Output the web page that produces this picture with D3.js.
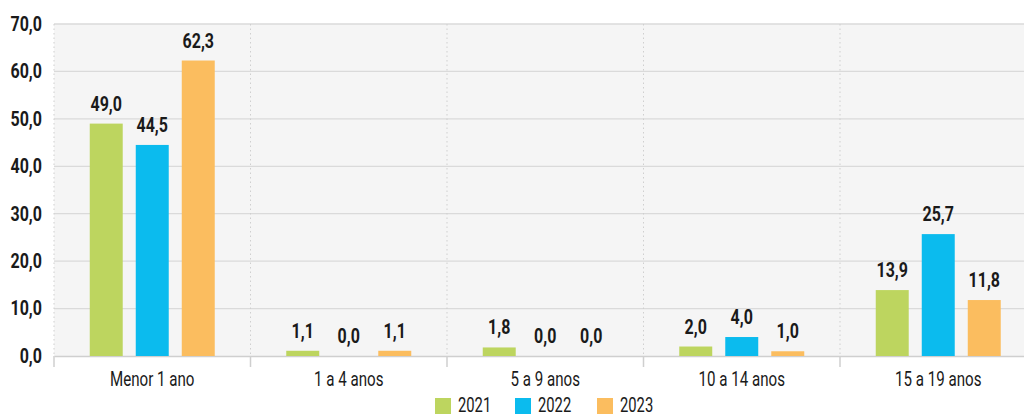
<!DOCTYPE html>
<html>
<head>
<meta charset="utf-8">
<script src="https://cdn.jsdelivr.net/npm/d3@7"></script>
<style>
  html, body { margin: 0; padding: 0; background: #fff; }
  svg { display: block; }
  text { font-family: Roboto, "DejaVu Sans", sans-serif; fill: #1a1a1a; }
</style>
</head>
<body>
<svg id="chart" width="1024" height="416"></svg>
<script>
const categories = ["Menor 1 ano", "1 a 4 anos", "5 a 9 anos", "10 a 14 anos", "15 a 19 anos"];
const seriesNames = ["2021", "2022", "2023"];
const values2021 = [49.0, 1.1, 1.8, 2.0, 13.9];
const values2022 = [44.5, 0.0, 0.0, 4.0, 25.7];
const values2023 = [62.3, 1.1, 0.0, 1.0, 11.8];
const colors = ["#bdd55f", "#0bbbee", "#fbbd5f"];
const yTicks = [0, 10, 20, 30, 40, 50, 60, 70];

const series = [values2021, values2022, values2023];
const fmt = v => d3.format(".1f")(v).replace(".", ",");

const svg = d3.select("#chart");
const m = { left: 54, top: 24 };
const plotRight = 54 + 196.5 * 5;

const x = d3.scaleBand().domain(categories).range([m.left, plotRight]);
const xs = d3.scaleBand().domain(seriesNames).range([0, x.bandwidth()]).paddingInner(0.283).paddingOuter(0.777);
const y = d3.scaleLinear().domain([0, 70]).range([356, m.top]);

// squeeze a text node horizontally around its anchor point (condensed look)
function condense(sel, k) {
  sel.each(function () {
    const t = d3.select(this);
    const tx = +t.attr("x") || 0;
    t.attr("x", 0).attr("transform", `translate(${tx},0) scale(${k},1)`);
  });
}

// plot background
svg.append("rect")
  .attr("x", m.left).attr("y", y(70))
  .attr("width", plotRight - m.left).attr("height", y(0) - y(70))
  .attr("fill", "#f5f5f5");

// horizontal gridlines
svg.append("g").selectAll("line").data(yTicks.filter(t => t > 0)).join("line")
  .attr("x1", m.left).attr("x2", plotRight)
  .attr("y1", d => y(d)).attr("y2", d => y(d))
  .attr("stroke", "#dadada").attr("stroke-width", 1.3);

// dotted category separators
const seps = categories.map(c => x(c));
svg.append("g").selectAll("line").data(seps).join("line")
  .attr("x1", d => d).attr("x2", d => d)
  .attr("y1", y(70)).attr("y2", y(0))
  .attr("stroke", "#cfcfcf").attr("stroke-dasharray", "1.5,3");

// y axis labels
const yAxis = d3.axisLeft(y).tickValues(yTicks).tickFormat(fmt).tickSize(0).tickPadding(12);
const gy = svg.append("g").attr("transform", `translate(${m.left},0)`).call(yAxis)
  .attr("font-family", null).attr("font-size", null);
gy.select(".domain").remove();
gy.selectAll("text").style("font-size", "20px").style("font-weight", "bold").attr("fill", "#1a1a1a")
  .call(condense, 0.8);

// x axis
const xAxis = d3.axisBottom(x).tickSize(0).tickPadding(15);
const gx = svg.append("g").attr("transform", `translate(0,${y(0)})`).call(xAxis)
  .attr("font-family", null).attr("font-size", null);
gx.select(".domain").attr("stroke", "#cfcfcf").attr("stroke-width", 1.5);
gx.selectAll("text").style("font-size", "21px").attr("fill", "#1a1a1a").call(condense, 0.72);
svg.append("g").selectAll("line").data(seps).join("line")
  .attr("x1", d => d).attr("x2", d => d)
  .attr("y1", y(0)).attr("y2", y(0) + 11)
  .attr("stroke", "#cfcfcf").attr("stroke-width", 1.5);

// bars and value labels
categories.forEach((c, i) => {
  const g = svg.append("g").attr("transform", `translate(${x(c)},0)`);
  seriesNames.forEach((s, j) => {
    const v = series[j][i];
    g.append("rect")
      .attr("x", xs(s)).attr("width", xs.bandwidth())
      .attr("y", y(v)).attr("height", y(0) - y(v))
      .attr("fill", colors[j]);
    g.append("text")
      .attr("x", xs(s) + xs.bandwidth() / 2)
      .attr("y", y(v) - 13)
      .attr("text-anchor", "middle")
      .style("font-size", "20px").style("font-weight", "bold")
      .text(fmt(v))
      .call(condense, 0.8);
  });
});

// legend
const legend = svg.append("g");
const legX = [435, 515, 597];
seriesNames.forEach((s, j) => {
  legend.append("rect").attr("x", legX[j]).attr("y", 398).attr("width", 16).attr("height", 16).attr("fill", colors[j]);
  legend.append("text").attr("x", legX[j] + 23).attr("y", 412).style("font-size", "20px").text(s).call(condense, 0.74);
});
</script>
</body>
</html>
